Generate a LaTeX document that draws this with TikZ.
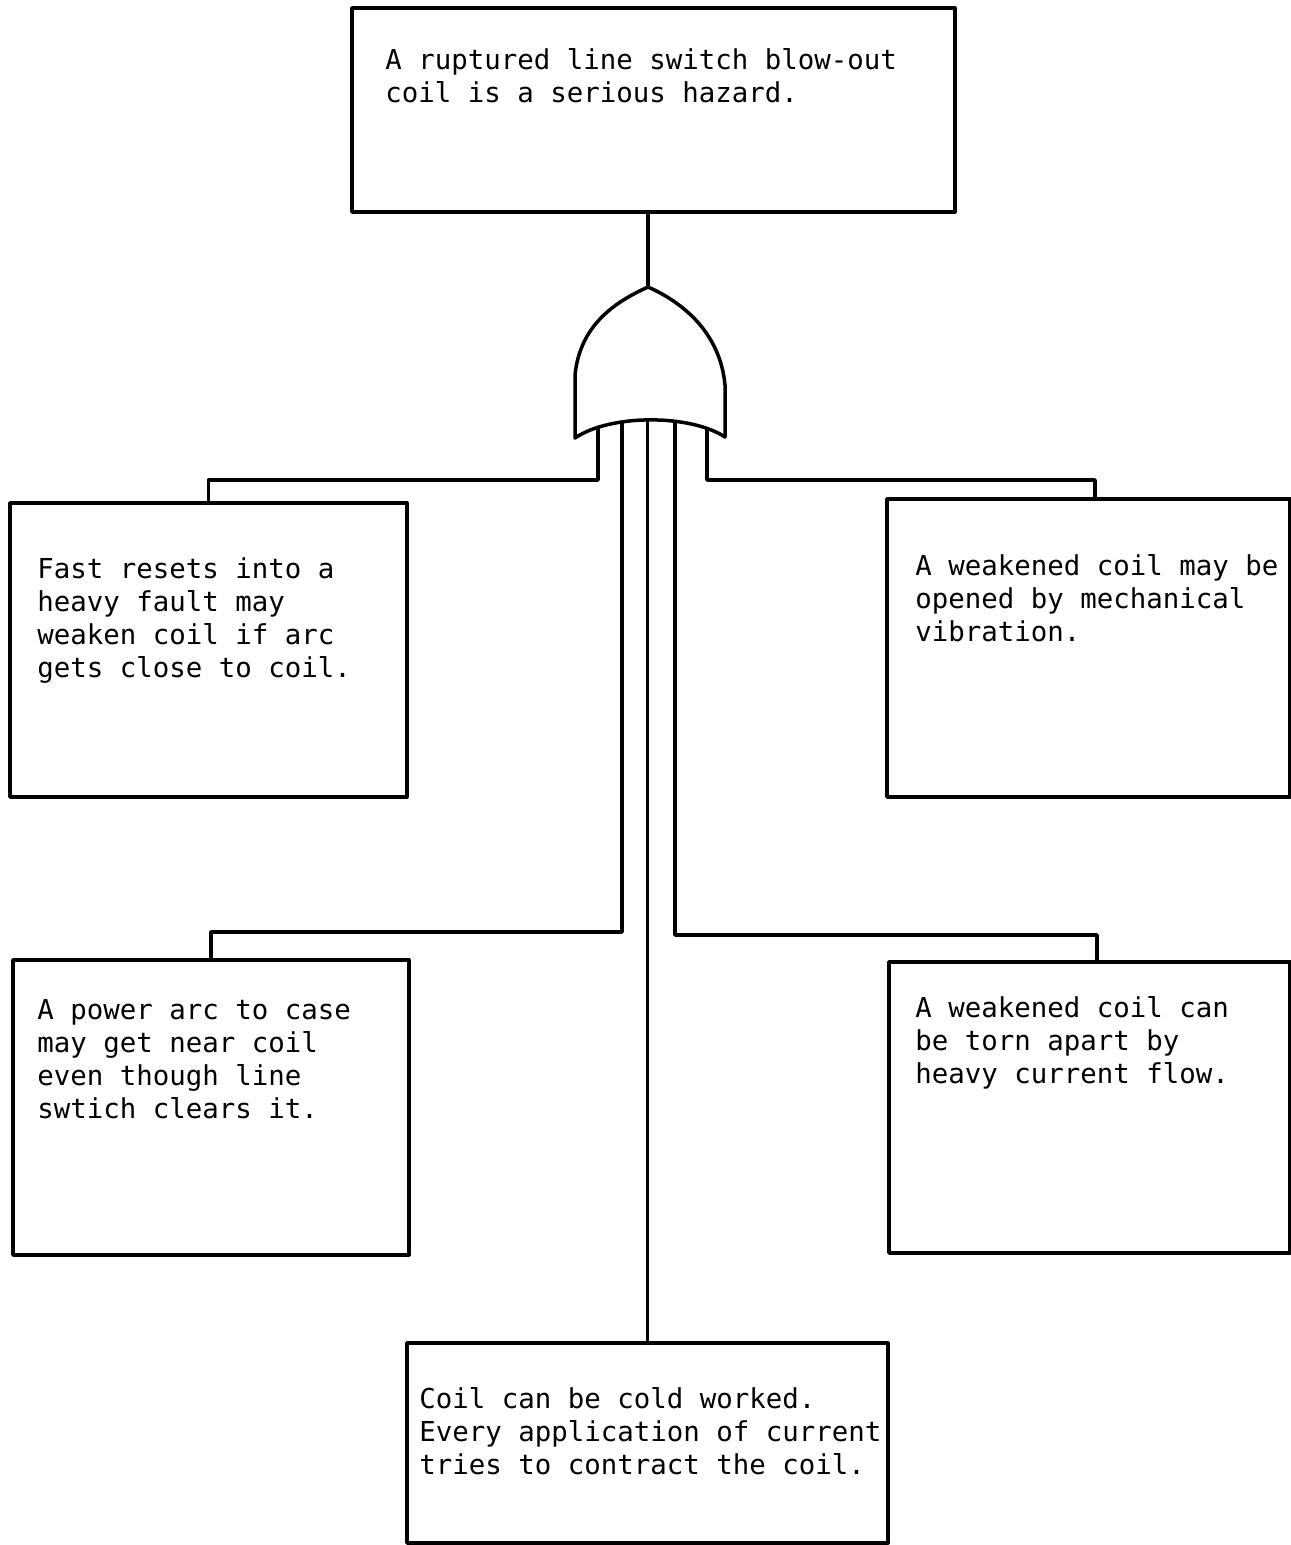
\documentclass[tikz,border=0pt]{standalone}
\usepackage{fontspec}
\newfontfamily\typefont{DejaVu Sans Mono}
\usepackage{tikz}

\tikzset{
	box/.style={draw, line width=2pt, rectangle, anchor=north west, inner sep=0pt, outer sep=0pt},
	txt/.style={anchor=north west, align=left, inner sep=0pt, font=\typefont\fontsize{15.6}{18.8}\selectfont},
	wire/.style={line width=2pt}
}

\begin{document}
\begin{tikzpicture}[x=0.02cm, y=-0.02cm, line join=round, line cap=round]
	\useasboundingbox (0,0) rectangle (1291,1545);

	% HỘP TRÊN CÙNG
	\node[box, minimum width=12.06cm, minimum height=4.08cm] (top) at (352,8) {};
	\node[txt] (toptxt) at (385,48) {A ruptured line switch blow-out\\coil is a serious hazard.};

	% CÁC HỘP NGUYÊN NHÂN
	\node[box, minimum width=7.94cm, minimum height=5.88cm] (left1) at (10,503) {};
	\node[txt] (left1txt) at (37,557) {Fast resets into a\\heavy fault may\\weaken coil if arc\\gets close to coil.};

	\node[box, minimum width=8.06cm, minimum height=5.96cm] (right1) at (887,499) {};
	\node[txt] (right1txt) at (915,554) {A weakened coil may be\\opened by mechanical\\vibration.};

	\node[box, minimum width=7.92cm, minimum height=5.90cm] (left2) at (13,960) {};
	\node[txt] (left2txt) at (37,999) {A power arc to case\\may get near coil\\even though line\\swtich clears it.};

	\node[box, minimum width=8.02cm, minimum height=5.82cm] (right2) at (889,962) {};
	\node[txt] (right2txt) at (915,996) {A weakened coil can\\be torn apart by\\heavy current flow.};

	\node[box, minimum width=9.62cm, minimum height=4.00cm] (bottom) at (407,1343) {};
	\node[txt] (bottomtxt) at (419,1387) {Coil can be cold worked.\\Every application of current\\tries to contract the coil.};

	% CỔNG OR
	\coordinate (gtip) at (648,287);
	\coordinate (in1) at (598,415);
	\coordinate (in2) at (622,415);
	\coordinate (in3) at (bottom.north |- 0,415);
	\coordinate (in4) at (675,415);
	\coordinate (in5) at (707,415);

	\draw[wire] (top.south -| gtip) -- (gtip);
	\draw[wire] (in1) -- (598,480) -| (left1.north);
	\draw[wire] (in2) -- (622,932) -| (left2.north);
	\draw[wire] (in3) -- (bottom.north);
	\draw[wire] (in4) -- (675,935) -| ([xshift=0.15cm]right2.north);
	\draw[wire] (in5) -- (707,480) -| ([xshift=0.13cm]right1.north);

	\draw[wire, fill=white] (575,438) -- (575,375)
		.. controls (580,325) and (615,302) .. (gtip)
		.. controls (682,302) and (720,332) .. (725,385)
		-- (725,437)
		.. controls (690,414) and (610,414) .. (575,438) -- cycle;
\end{tikzpicture}
\end{document}
